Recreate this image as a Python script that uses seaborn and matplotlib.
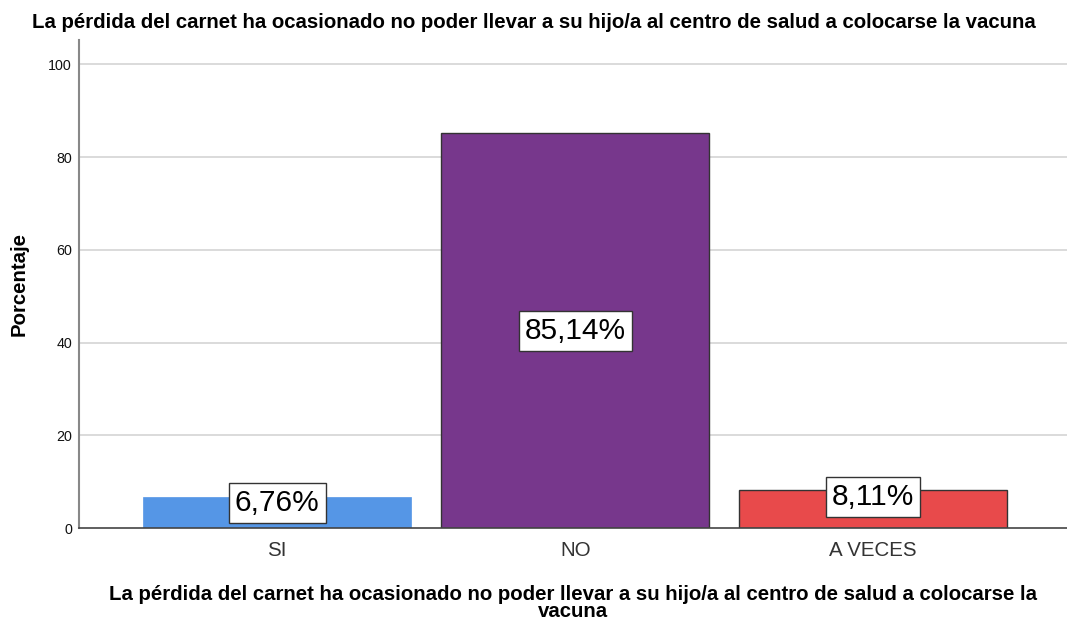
import matplotlib
matplotlib.use("Agg")
import matplotlib.pyplot as plt
import seaborn as sns
import pandas as pd

categories = ["SI", "NO", "A VECES"]
percentages = [6.76, 85.14, 8.11]
labels = ["6,76%", "85,14%", "8,11%"]
colors = ["#5596E6", "#77378C", "#E84A4B"]
yticks = [0, 20, 40, 60, 80, 100]
title = "La pérdida del carnet ha ocasionado no poder llevar a su hijo/a al centro de salud a colocarse la vacuna"
xlabel = "La pérdida del carnet ha ocasionado no poder llevar a su hijo/a al centro de salud a colocarse la\nvacuna"
ylabel = "Porcentaje"

sns.set_style("white")
plt.rcParams['font.family'] = ['Liberation Sans', 'DejaVu Sans']
plt.rcParams['text.color'] = 'black'

df = pd.DataFrame({"cat": categories, "pct": percentages})

fig = plt.figure(figsize=(10.67, 6.19), dpi=100)
ax = fig.add_axes([0.074, 0.147, 0.926, 0.788])

for y in yticks[1:]:
    ax.axhline(y, color="#d4d4d4", lw=1.2, zorder=0)

sns.barplot(data=df, x="cat", y="pct", hue="cat", palette=colors, order=categories,
            hue_order=categories, legend=False, width=0.9, saturation=1, ax=ax, zorder=2)

for i, p in enumerate(ax.patches):
    if i == 0:
        p.set_edgecolor(colors[0])
        p.set_linewidth(0.5)
    else:
        p.set_edgecolor("#333333")
        p.set_linewidth(1.0)

ax.set_ylim(0, 105.2)
ax.set_xlim(-0.665, 2.65)
ax.set_yticks(yticks)
ax.set_yticklabels([str(v) for v in yticks], fontsize=10.3, color="#111111")
ax.tick_params(axis="x", labelsize=14.8, colors="#333333", length=0, pad=9)
ax.tick_params(axis="y", length=0, pad=5)
ax.set_xticks(range(len(categories)))
ax.set_xticklabels(categories)

for s in ["top", "right"]:
    ax.spines[s].set_visible(False)
ax.spines["left"].set_color("#888888")
ax.spines["left"].set_linewidth(1.5)
ax.spines["bottom"].set_color("#444444")
ax.spines["bottom"].set_linewidth(1.2)

for i, (h, lab) in enumerate(zip(percentages, labels)):
    ypos = h / 2 if h > 20 else h - 1.4
    ax.text(i, ypos, lab, ha="center", va="center", fontsize=21.5, color="black", zorder=5,
            bbox=dict(boxstyle="square,pad=0.2", fc="white", ec="#333333", lw=1))

ax.set_xlabel(xlabel, fontsize=14.7, fontweight="bold", labelpad=18, linespacing=0.9, color="black")
ax.set_ylabel(ylabel, fontsize=14.7, fontweight="bold", labelpad=14, color="black")
fig.text(0.5, 0.963, title, ha="center", va="center", fontsize=14.7, fontweight="bold", color="black")

fig.savefig("out.png", dpi=100)
